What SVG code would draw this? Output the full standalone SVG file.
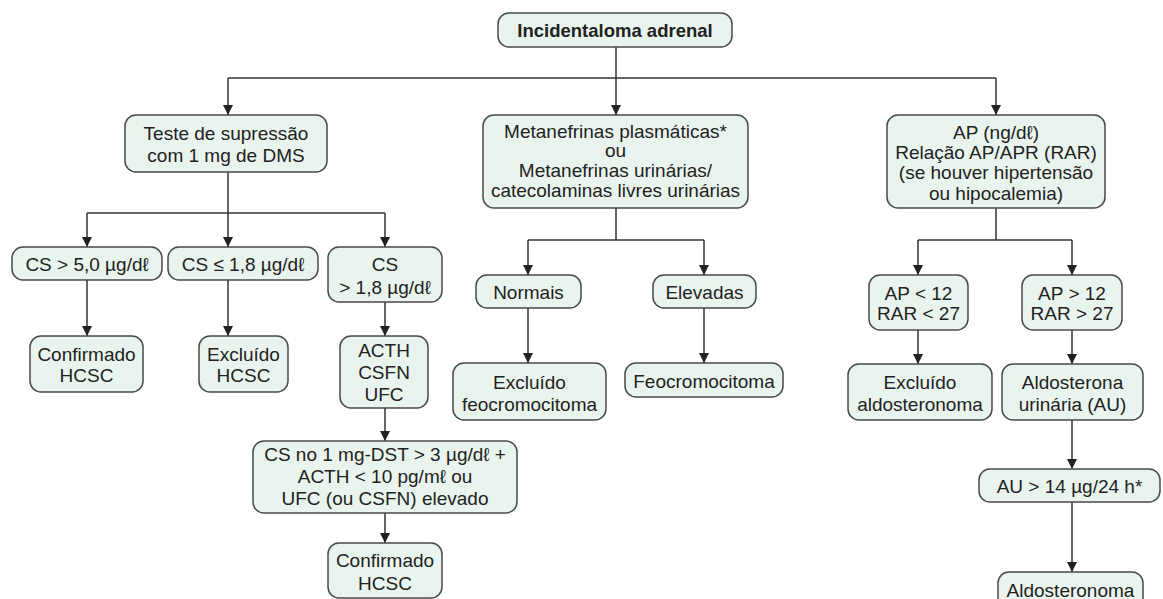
<svg xmlns="http://www.w3.org/2000/svg" width="1163" height="599" viewBox="0 0 1163 599">
<style>
.box{fill:#eaf4ee;stroke:#4a4a4a;stroke-width:1.5}
.t{font-family:"Liberation Sans",Arial,sans-serif;font-size:19px;fill:#222;text-anchor:middle;dominant-baseline:central}
.b{font-weight:bold;font-size:18.5px}
.c{fill:none;stroke:#333;stroke-width:1.5}
.a{marker-end:url(#arr)}
</style>
<defs>
<marker id="arr" viewBox="0 0 10 10" refX="10" refY="5" markerWidth="10" markerHeight="10" markerUnits="userSpaceOnUse" orient="auto">
<path d="M0,0 L10,5 L0,10 z" fill="#222"/>
</marker>
</defs>
<rect width="1163" height="599" fill="#fff"/>
<g id="connectors">
<path class="c" d="M616,47 V78 M228,78 H996"/>
<path class="c a" d="M228,78 V115"/>
<path class="c a" d="M616,78 V115"/>
<path class="c a" d="M996,78 V115"/>
<path class="c" d="M228,172 V213 M87,213 H385"/>
<path class="c a" d="M87,213 V247"/>
<path class="c a" d="M228,213 V247"/>
<path class="c a" d="M385,213 V247"/>
<path class="c a" d="M87,280 V336"/>
<path class="c a" d="M228,280 V336"/>
<path class="c a" d="M385,302 V336"/>
<path class="c a" d="M385,408 V441"/>
<path class="c a" d="M385,513 V543"/>
<path class="c" d="M616,208 V240 M528,240 H704"/>
<path class="c a" d="M528,240 V275"/>
<path class="c a" d="M704,240 V275"/>
<path class="c a" d="M528,308 V363"/>
<path class="c a" d="M704,308 V363"/>
<path class="c" d="M996,208 V240 M918,240 H1072"/>
<path class="c a" d="M918,240 V275"/>
<path class="c a" d="M1072,240 V275"/>
<path class="c a" d="M918,330 V364"/>
<path class="c a" d="M1072,330 V364"/>
<path class="c a" d="M1072,420 V469"/>
<path class="c a" d="M1072,502 V572"/>
</g>
<g id="n-root"><rect class="box" x="498" y="13" width="234" height="34" rx="11"/><text class="t b" x="615" y="30">Incidentaloma adrenal</text></g>
<g id="n-teste"><rect class="box" x="125" y="115" width="202" height="57" rx="11"/><text class="t" x="226" y="133">Teste de supressão</text><text class="t" x="226" y="155">com 1 mg de DMS</text></g>
<g id="n-meta"><rect class="box" x="483" y="115" width="265" height="93" rx="11"/><text class="t" x="615.5" y="131">Metanefrinas plasmáticas*</text><text class="t" x="615.5" y="150">ou</text><text class="t" x="615.5" y="170">Metanefrinas urinárias/</text><text class="t" x="615.5" y="190">catecolaminas livres urinárias</text></g>
<g id="n-ap"><rect class="box" x="887" y="115" width="218" height="93" rx="11"/><text class="t" x="996" y="132">AP (ng/dℓ)</text><text class="t" x="996" y="152">Relação AP/APR (RAR)</text><text class="t" x="996" y="172">(se houver hipertensão</text><text class="t" x="996" y="193">ou hipocalemia)</text></g>
<g id="n-cs5"><rect class="box" x="12" y="247" width="150" height="33" rx="11"/><text class="t" x="87" y="264">CS &gt; 5,0 µg/dℓ</text></g>
<g id="n-cs18le"><rect class="box" x="168" y="247" width="150" height="33" rx="11"/><text class="t" x="243" y="264">CS ≤ 1,8 µg/dℓ</text></g>
<g id="n-cs18gt"><rect class="box" x="328" y="247" width="114" height="55" rx="11"/><text class="t" x="385" y="264">CS</text><text class="t" x="385" y="287">&gt; 1,8 µg/dℓ</text></g>
<g id="n-conf1"><rect class="box" x="30" y="336" width="113" height="56" rx="11"/><text class="t" x="86.5" y="354">Confirmado</text><text class="t" x="86.5" y="375">HCSC</text></g>
<g id="n-excl1"><rect class="box" x="199" y="336" width="89" height="56" rx="11"/><text class="t" x="243.5" y="354">Excluído</text><text class="t" x="243.5" y="375">HCSC</text></g>
<g id="n-acth"><rect class="box" x="340" y="336" width="88" height="72" rx="11"/><text class="t" x="384" y="350">ACTH</text><text class="t" x="384" y="372">CSFN</text><text class="t" x="384" y="394">UFC</text></g>
<g id="n-csdst"><rect class="box" x="253" y="441" width="264" height="72" rx="11"/><text class="t" x="385" y="454">CS no 1 mg-DST &gt; 3 µg/dℓ +</text><text class="t" x="385" y="476">ACTH &lt; 10 pg/mℓ ou</text><text class="t" x="385" y="498">UFC (ou CSFN) elevado</text></g>
<g id="n-conf2"><rect class="box" x="328" y="543" width="114" height="55" rx="11"/><text class="t" x="385" y="560">Confirmado</text><text class="t" x="385" y="583">HCSC</text></g>
<g id="n-normais"><rect class="box" x="476" y="275" width="105" height="33" rx="11"/><text class="t" x="528.5" y="292">Normais</text></g>
<g id="n-elevadas"><rect class="box" x="653" y="275" width="103" height="33" rx="11"/><text class="t" x="704.5" y="292">Elevadas</text></g>
<g id="n-exfeo"><rect class="box" x="453" y="363" width="153" height="57" rx="11"/><text class="t" x="529.5" y="382">Excluído</text><text class="t" x="529.5" y="404">feocromocitoma</text></g>
<g id="n-feo"><rect class="box" x="625" y="363" width="158" height="34" rx="11"/><text class="t" x="704" y="381">Feocromocitoma</text></g>
<g id="n-aplt"><rect class="box" x="869" y="275" width="99" height="55" rx="11"/><text class="t" x="918.5" y="293">AP &lt; 12</text><text class="t" x="918.5" y="313">RAR &lt; 27</text></g>
<g id="n-apgt"><rect class="box" x="1022" y="275" width="100" height="55" rx="11"/><text class="t" x="1072" y="293">AP &gt; 12</text><text class="t" x="1072" y="313">RAR &gt; 27</text></g>
<g id="n-exaldo"><rect class="box" x="848" y="364" width="144" height="56" rx="11"/><text class="t" x="920" y="382">Excluído</text><text class="t" x="920" y="404">aldosteronoma</text></g>
<g id="n-au"><rect class="box" x="1002" y="364" width="141" height="56" rx="11"/><text class="t" x="1072.5" y="382">Aldosterona</text><text class="t" x="1072.5" y="404">urinária (AU)</text></g>
<g id="n-au14"><rect class="box" x="979" y="469" width="181" height="33" rx="11"/><text class="t" x="1069.5" y="486">AU &gt; 14 µg/24 h*</text></g>
<g id="n-aldo"><rect class="box" x="998" y="572" width="145" height="40" rx="11"/><text class="t" x="1070.5" y="590">Aldosteronoma</text></g>
</svg>
